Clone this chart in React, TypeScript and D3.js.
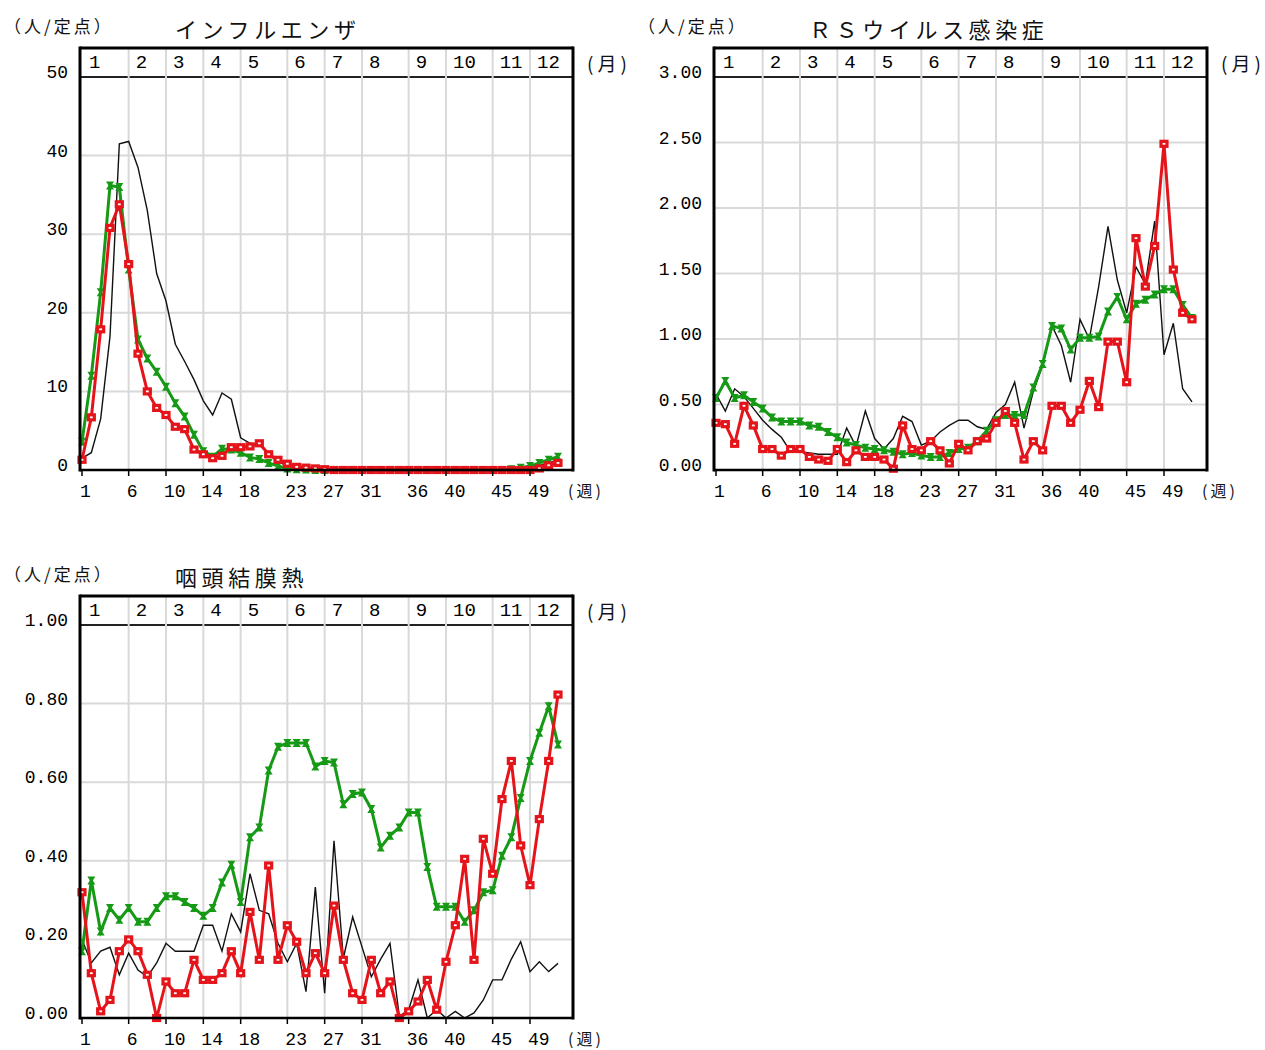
import * as d3 from 'd3';

// week numbers where each month starts (also the labelled x ticks)
const monthStartWeeks = [1, 6, 10, 14, 18, 23, 27, 31, 36, 40, 45, 49];
const monthLabels = ['1', '2', '3', '4', '5', '6', '7', '8', '9', '10', '11', '12'];

// インフルエンザ (人/定点), weeks 1..52
const fluAvg = [
  1.5, 2.2, 6.5, 17, 41.5, 41.8, 38.5, 33, 25, 21.5, 16, 13.8, 11.5, 8.8, 7.0, 9.8, 9.0, 4.1, 3.4, 3.2,
  2.0, 1.1, 0.5, 0.3, 0.2, 0.1, 0.1, 0.1, 0.05, 0.05, 0.05, 0.05, 0.05, 0.05, 0.05, 0.05, 0.05, 0.05, 0.05, 0.05,
  0.05, 0.05, 0.05, 0.05, 0.05, 0.05, 0.1, 0.2, 0.3, 0.6, 0.9, 1.3,
];
const fluLastYear = [
  3.6, 12, 22.6, 36.2, 36, 25.5, 16.6, 14.2, 12.5, 10.6, 8.5, 6.8, 4.5, 2.4, 1.7, 2.7, 2.6, 2.2, 1.6, 1.4,
  0.9, 0.5, 0.2, 0.1, 0.05, 0, 0, 0, 0, 0, 0, 0, 0, 0, 0, 0, 0, 0, 0, 0,
  0, 0, 0, 0, 0, 0, 0.1, 0.3, 0.5, 0.9, 1.3, 1.7,
];
const fluThisYear = [
  1.3, 6.7, 17.9, 30.8, 33.8, 26.2, 14.8, 10.0, 7.9, 7.0, 5.5, 5.2, 2.6, 2.0, 1.5, 1.8, 2.9, 2.9, 3.0, 3.4,
  2.0, 1.3, 0.8, 0.4, 0.3, 0.2, 0.1, 0, 0, 0, 0, 0, 0, 0, 0, 0, 0, 0, 0, 0,
  0, 0, 0, 0, 0, 0, 0, 0, 0, 0.2, 0.6, 0.9,
];

// ＲＳウイルス感染症
const rsvAvg = [
  0.58, 0.45, 0.62, 0.56, 0.47, 0.38, 0.31, 0.25, 0.14, 0.14, 0.13, 0.12, 0.12, 0.12, 0.32, 0.18, 0.45, 0.24, 0.16, 0.24,
  0.41, 0.37, 0.19, 0.22, 0.29, 0.34, 0.38, 0.38, 0.33, 0.31, 0.44, 0.5, 0.67, 0.32, 0.6, 0.8, 1.1, 0.95, 0.67, 1.15,
  1.0, 1.4, 1.86, 1.45, 1.2, 1.55, 1.42, 1.9, 0.88, 1.12, 0.62, 0.52,
];
const rsvLastYear = [
  0.55, 0.68, 0.55, 0.57, 0.52, 0.47, 0.4, 0.37, 0.37, 0.37, 0.34, 0.33, 0.29, 0.25, 0.21, 0.19, 0.17, 0.16, 0.15, 0.14,
  0.12, 0.13, 0.11, 0.1, 0.1, 0.13, 0.16, 0.17, 0.22, 0.3, 0.38, 0.42, 0.42, 0.42, 0.63, 0.81, 1.1, 1.08, 0.92, 1.01,
  1.01, 1.02, 1.21, 1.32, 1.15, 1.27, 1.3, 1.34, 1.38, 1.38, 1.26, 1.16,
];
const rsvThisYear = [
  0.36, 0.35, 0.2, 0.49, 0.34, 0.16, 0.16, 0.11, 0.16, 0.16, 0.1, 0.08, 0.07, 0.16, 0.06, 0.15, 0.1, 0.1, 0.08, 0.01,
  0.34, 0.16, 0.15, 0.22, 0.15, 0.05, 0.2, 0.15, 0.22, 0.24, 0.36, 0.45, 0.36, 0.08, 0.22, 0.15, 0.49, 0.49, 0.36, 0.46,
  0.68, 0.48, 0.98, 0.98, 0.67, 1.77, 1.4, 1.71, 2.49, 1.53, 1.2, 1.15,
];

// 咽頭結膜熱
const pcfAvg = [
  0.2, 0.14, 0.17, 0.18, 0.11, 0.165, 0.122, 0.105, 0.14, 0.19, 0.17, 0.17, 0.17, 0.236, 0.236, 0.17, 0.265, 0.219, 0.367, 0.274,
  0.265, 0.19, 0.143, 0.19, 0.067, 0.333, 0.063, 0.451, 0.152, 0.257, 0.181, 0.105, 0.15, 0.19, 0.004, 0.021, 0.097, 0, 0.021, 0,
  0.017, 0, 0.013, 0.046, 0.097, 0.097, 0.15, 0.194, 0.118, 0.143, 0.118, 0.139,
];
const pcfLastYear = [
  0.17, 0.35, 0.22, 0.28, 0.25, 0.28, 0.245, 0.245, 0.28, 0.31, 0.31, 0.295, 0.28, 0.26, 0.28, 0.345, 0.39, 0.295, 0.46, 0.485,
  0.63, 0.69, 0.7, 0.7, 0.7, 0.64, 0.654, 0.65, 0.544, 0.57, 0.574, 0.532, 0.434, 0.464, 0.485, 0.523, 0.523, 0.384, 0.283, 0.283,
  0.283, 0.245, 0.274, 0.32, 0.325, 0.413, 0.46, 0.56, 0.654, 0.726, 0.793, 0.696,
];
const pcfThisYear = [
  0.32, 0.114, 0.017, 0.046, 0.17, 0.2, 0.17, 0.11, 0, 0.093, 0.063, 0.063, 0.148, 0.097, 0.097, 0.114, 0.17, 0.114, 0.27, 0.148,
  0.388, 0.148, 0.236, 0.194, 0.114, 0.165, 0.114, 0.286, 0.148, 0.063, 0.046, 0.148, 0.063, 0.093, 0, 0.017, 0.042, 0.097, 0.021, 0.143,
  0.236, 0.405, 0.148, 0.456, 0.367, 0.557, 0.654, 0.439, 0.338, 0.506, 0.654, 0.823,
];

const GREEN = '#169a16';
const RED = '#e5141a';
const GRID = '#d9d9d9';
const NUM_FONT = '"Liberation Mono", monospace';
const JP_FONT = '"Noto Sans CJK JP", sans-serif';

interface ChartProps {
  left: number;
  top: number;
  title: string;
  yMax: number;
  yStep: number;
  digits: number;
  avg: number[];
  lastYear: number[];
  thisYear: number[];
}

function Chart({ left, top, title, yMax, yStep, digits, avg, lastYear, thisYear }: ChartProps) {
  const right = left + 493;
  const bandBottom = top + 29;
  const bottom = top + 422;

  const x = d3.scaleLinear().domain([1, 52]).range([left + 2, left + 478]);
  const y = d3.scaleLinear().domain([0, yMax]).range([bottom, bandBottom]);
  const yTicks = d3.range(0, yMax + yStep / 2, yStep);
  const line = d3
    .line<number>()
    .x((_, i) => x(i + 1))
    .y((d) => y(d));

  return (
    <g>
      {/* headers */}
      <text x={left - 76} y={top - 23} fontFamily={JP_FONT} fontSize={17} letterSpacing={3} dominantBaseline="central" fill="#111">
        （人/定点）
      </text>
      <text x={left + 95} y={top - 20} fontFamily={JP_FONT} fontSize={22} letterSpacing={4.6} dominantBaseline="central" fill="#111">
        {title}
      </text>

      {/* grid */}
      {yTicks.slice(1, -1).map((v) => (
        <line key={'h' + v} x1={left} x2={right} y1={y(v)} y2={y(v)} stroke={GRID} strokeWidth={2} />
      ))}
      {monthStartWeeks.slice(1).map((w) => (
        <line key={'v' + w} x1={x(w)} x2={x(w)} y1={top} y2={bottom} stroke={GRID} strokeWidth={2} />
      ))}

      {/* month band */}
      <line x1={left} x2={right} y1={bandBottom} y2={bandBottom} stroke="#222" strokeWidth={2} />
      {monthStartWeeks.slice(1).map((w) => (
        <line key={'bd' + w} x1={x(w)} x2={x(w)} y1={bandBottom - 1} y2={bandBottom + 1} stroke={GRID} strokeWidth={2} />
      ))}
      {monthLabels.map((m, i) => (
        <text key={'m' + m} x={x(monthStartWeeks[i]) + 7} y={top + 15} fontFamily={NUM_FONT} fontSize={19} dominantBaseline="central" fill="#000">
          {m}
        </text>
      ))}
      <text x={right + 14} y={top + 14} fontFamily={JP_FONT} fontSize={19} letterSpacing={4} dominantBaseline="central" fill="#111">
        (月)
      </text>

      {/* series */}
      <path d={line(avg) ?? ''} fill="none" stroke="#111" strokeWidth={1.4} />
      <path d={line(lastYear) ?? ''} fill="none" stroke={GREEN} strokeWidth={3} />
      {lastYear.map((d, i) => (
        <path key={'g' + i} transform={`translate(${x(i + 1)},${y(d)})`} d="M-4,-4H4L1.5,0L4,4H-4L-1.5,0Z" fill={GREEN} />
      ))}
      <path d={line(thisYear) ?? ''} fill="none" stroke={RED} strokeWidth={3} />
      {thisYear.map((d, i) => (
        <rect key={'r' + i} x={x(i + 1) - 3} y={y(d) - 2.5} width={6} height={5} fill="#fff" stroke={RED} strokeWidth={3.2} />
      ))}

      {/* frame */}
      <line x1={left} x2={right} y1={top} y2={top} stroke="#000" strokeWidth={3} />
      <line x1={left} x2={left} y1={top - 1.5} y2={bottom + 1.5} stroke="#000" strokeWidth={3} />
      <line x1={right} x2={right} y1={top - 1.5} y2={bottom + 1.5} stroke="#000" strokeWidth={3} />
      <line x1={left} x2={right} y1={bottom} y2={bottom} stroke="#000" strokeWidth={2.5} />

      {/* y axis labels */}
      {yTicks.map((v) => (
        <text key={'yl' + v} x={left - 12} y={y(v) - 4} textAnchor="end" fontFamily={NUM_FONT} fontSize={18} dominantBaseline="central" fill="#000">
          {v.toFixed(digits)}
        </text>
      ))}

      {/* x axis ticks + labels */}
      {monthStartWeeks.map((w) => (
        <g key={'xt' + w}>
          <line x1={x(w)} x2={x(w)} y1={bottom} y2={bottom + 6} stroke="#000" strokeWidth={1.5} />
          <text x={x(w) - 2} y={bottom + 22} fontFamily={NUM_FONT} fontSize={18} dominantBaseline="central" fill="#000">
            {w}
          </text>
        </g>
      ))}
      <text x={left + 488} y={bottom + 20} fontFamily={JP_FONT} fontSize={16} letterSpacing={3} dominantBaseline="central" fill="#111">
        (週)
      </text>
    </g>
  );
}

export default function App() {
  return (
    <svg width={1265} height={1050} style={{ position: 'absolute', left: 0, top: 0, background: '#fff' }}>
      <Chart left={80} top={48} title="インフルエンザ" yMax={50} yStep={10} digits={0} avg={fluAvg} lastYear={fluLastYear} thisYear={fluThisYear} />
      <Chart left={714} top={48} title="ＲＳウイルス感染症" yMax={3} yStep={0.5} digits={2} avg={rsvAvg} lastYear={rsvLastYear} thisYear={rsvThisYear} />
      <Chart left={80} top={596} title="咽頭結膜熱" yMax={1} yStep={0.2} digits={2} avg={pcfAvg} lastYear={pcfLastYear} thisYear={pcfThisYear} />
    </svg>
  );
}
